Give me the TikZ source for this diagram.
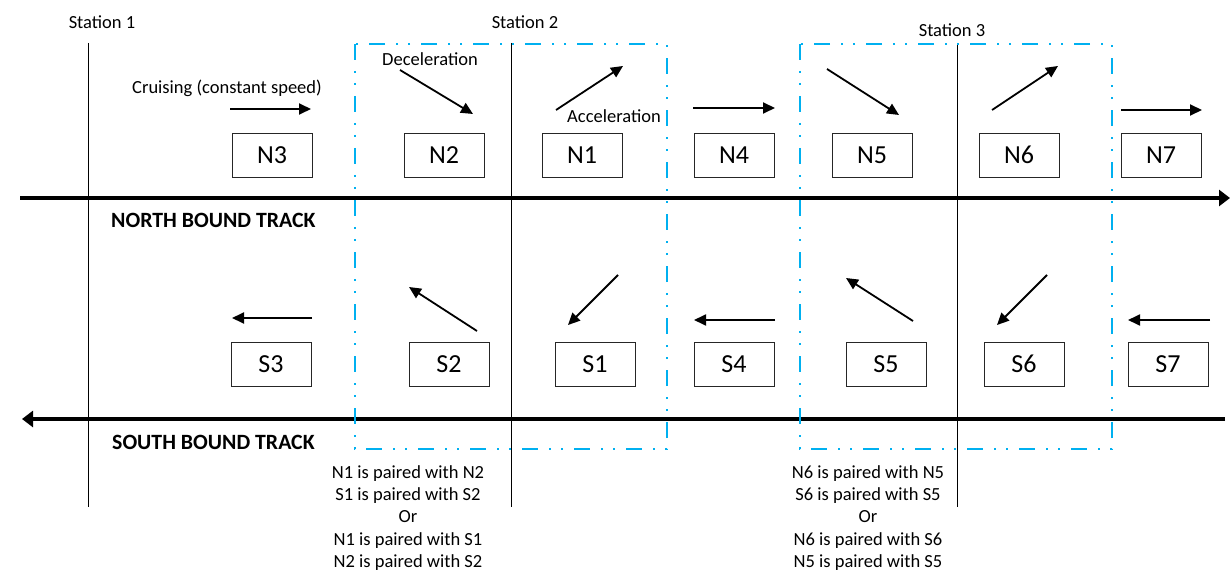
\documentclass[tikz,border=0pt]{standalone}
\usepackage{fontspec}
\setmainfont{Carlito}
\usetikzlibrary{arrows.meta}
\definecolor{zoneblue}{HTML}{00B0F0}
\tikzset{
  train/.style={draw=black!85, line width=0.9pt, minimum width=80pt, minimum height=44pt,
    inner sep=0pt, font=\fontsize{26}{30}\selectfont},
  move/.style={line width=1.8pt, -{Triangle[length=12pt,width=11pt]}},
  track/.style={line width=3.2pt, -{Triangle[length=11pt,width=16pt]}},
  stationline/.style={line width=1pt},
  zone/.style={draw=zoneblue, line width=2.5pt,
    dash pattern=on 16pt off 11pt on 2pt off 10pt on 2pt off 11pt},
  small/.style={font=\fontsize{18.5}{22.3}\selectfont, inner sep=0pt},
  trackname/.style={font=\fontsize{21.8}{26}\selectfont\bfseries, anchor=west, inner sep=0pt}
}
\begin{document}
\begin{tikzpicture}[x=1pt,y=-1pt]
\useasboundingbox (0,0) rectangle (1230,577);

% station positions
\draw[stationline] (88,43) -- (88,507);
\draw[stationline] (511,43) -- (511,507);
\draw[stationline] (957,43) -- (957,507);
\node[small] (st1) at (102,22) {Station 1};
\node[small] (st2) at (525,22) {Station 2};
\node[small] (st3) at (952,30) {Station 3};

% tracks
\draw[track] (20,198) -- (1230,198);
\draw[track] (1225,419) -- (22,419);
\node[trackname] (nbt) at (111,220) {NORTH BOUND TRACK};
\node[trackname] (sbt) at (112,442) {SOUTH BOUND TRACK};

% paired station zones
\draw[zone] (355,44) rectangle (667,449);
\draw[zone] (800,44) rectangle (1112,449);

% northbound trains
\node[train] (N3) at (272,155) {N3};
\node[train] (N2) at (444,155) {N2};
\node[train] (N1) at (582,155) {N1};
\node[train] (N4) at (734,155) {N4};
\node[train] (N5) at (872,155) {N5};
\node[train] (N6) at (1019,155) {N6};
\node[train] (N7) at (1161,155) {N7};

% southbound trains
\node[train] (S3) at (271,364) {S3};
\node[train] (S2) at (449,364) {S2};
\node[train] (S1) at (595,364) {S1};
\node[train] (S4) at (734,364) {S4};
\node[train] (S5) at (886,364) {S5};
\node[train] (S6) at (1024,364) {S6};
\node[train] (S7) at (1168,364) {S7};

% northbound motion
\draw[move] (230,109) -- (311,109);
\draw[move] (400,70) -- (473,114);
\draw[move] (556,110) -- (623,66);
\draw[move] (693,108) -- (775,108);
\draw[move] (827,69) -- (899,115);
\draw[move] (992,110) -- (1058,66);
\draw[move] (1121,110) -- (1202,110);
\node[small] (cruise) at (227,88) {Cruising (constant speed)};
\node[small] (decel) at (430,59) {Deceleration};
\node[small] (accel) at (614,116) {Acceleration};

% southbound motion
\draw[move] (312,318) -- (232,318);
\draw[move] (477,331) -- (409,287);
\draw[move] (618,275) -- (568,325);
\draw[move] (775,320) -- (694,320);
\draw[move] (913,321) -- (846,278);
\draw[move] (1047,275) -- (997,325);
\draw[move] (1210,320) -- (1128,320);

% pairing notes
\node[small, align=center] (pair2) at (408,518) {N1 is paired with N2\\S1 is paired with S2\\Or\\N1 is paired with S1\\N2 is paired with S2};
\node[small, align=center] (pair3) at (868,518) {N6 is paired with N5\\S6 is paired with S5\\Or\\N6 is paired with S6\\N5 is paired with S5};
\end{tikzpicture}
\end{document}
